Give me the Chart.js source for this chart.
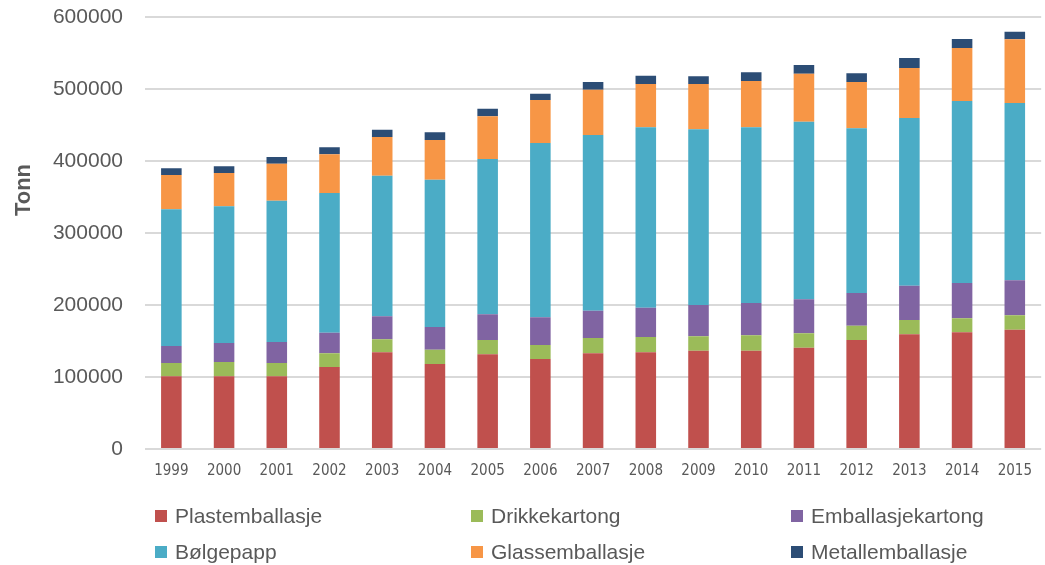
<!DOCTYPE html>
<html>
<head>
<meta charset="utf-8">
<script src="https://cdn.jsdelivr.net/npm/chart.js@4/dist/chart.umd.min.js"></script>
<style>
  body { margin: 0; background: #fff; }
  #wrap { position: relative; width: 1045px; height: 565px; }
  #legend { position: absolute; left: 0; top: 0; width: 1045px; height: 565px; pointer-events: none;
            font-family: "Liberation Sans", Arial, sans-serif; font-size: 21px; color: #595959; }
  .item { position: absolute; display: flex; align-items: center; white-space: nowrap; }
  .box { width: 12px; height: 12px; margin-right: 8px; }
</style>
</head>
<body>
<div id="wrap">
  <canvas id="chart" width="1045" height="565"></canvas>
  <div id="legend"></div>
</div>
<script>
// Årstall
const years = ['1999', '2000', '2001', '2002', '2003', '2004', '2005', '2006', '2007',
               '2008', '2009', '2010', '2011', '2012', '2013', '2014', '2015'];

// Tonn per emballasjetype
const plastemballasje = [101000, 101000, 101000, 113900, 134300, 118100, 131500, 125000, 132900,
                         134300, 136600, 136600, 140700, 151400, 159300, 162000, 165700];
const drikkekartong = [18400, 19800, 18400, 19000, 18000, 19800, 19900, 19400, 21300,
                       21300, 19900, 21300, 19900, 19900, 19900, 19500, 20000];
const emballasjekartong = [23600, 26400, 29200, 28700, 32000, 31500, 35600, 38500, 37900,
                           40700, 43500, 44900, 47300, 45400, 47600, 49100, 48600];
const bolgepapp = [190000, 189800, 196300, 194000, 195300, 204700, 215800, 242100, 244000,
                   250500, 244000, 244000, 246700, 228700, 232900, 252700, 246300];
const glassemballasje = [47500, 46300, 51400, 53700, 53700, 55100, 59300, 59700, 62900,
                         60100, 62900, 64300, 66700, 64300, 69500, 73600, 88400];
const metallemballasje = [9300, 9300, 9200, 9700, 10200, 10600, 10600, 8800, 10700,
                          11600, 10700, 12100, 12000, 12100, 13900, 12500, 10600];

const yTicks = [0, 100000, 200000, 300000, 400000, 500000, 600000];

const series = [
    { label: 'Plastemballasje', data: plastemballasje, color: '#c0504d' },
    { label: 'Drikkekartong', data: drikkekartong, color: '#9bbb59' },
    { label: 'Emballasjekartong', data: emballasjekartong, color: '#8064a2' },
    { label: 'Bølgepapp', data: bolgepapp, color: '#4bacc6' },
    { label: 'Glassemballasje', data: glassemballasje, color: '#f79646' },
    { label: 'Metallemballasje', data: metallemballasje, color: '#2c4d75' }
];

const grey = '#595959';

// Tegner aksetittelen "Tonn"
const yTitlePlugin = {
    id: 'yTitle',
    afterDraw(chart) {
        const ctx = chart.ctx;
        ctx.save();
        ctx.translate(24, 190);
        ctx.rotate(-Math.PI / 2);
        ctx.font = 'bold 22px "Liberation Sans", Arial, sans-serif';
        ctx.fillStyle = grey;
        ctx.textAlign = 'center';
        ctx.textBaseline = 'middle';
        ctx.fillText('Tonn', 0, 0);
        ctx.restore();
    }
};

const ctx = document.getElementById('chart').getContext('2d');
const chart = new Chart(ctx, {
    type: 'bar',
    data: {
        labels: years,
        datasets: series.map(s => ({
            label: s.label,
            data: s.data,
            backgroundColor: s.color,
            borderWidth: 0,
            categoryPercentage: 1,
            barPercentage: 0.39
        }))
    },
    options: {
        responsive: false,
        animation: false,
        layout: { padding: { top: 17, right: 1, left: 0, bottom: 0 } },
        plugins: {
            legend: { display: false },
            tooltip: { enabled: false }
        },
        scales: {
            x: {
                stacked: true,
                grid: { display: false, drawTicks: false },
                border: { display: false },
                ticks: {
                    color: grey,
                    padding: 13,
                    maxRotation: 0,
                    font: { family: '"Liberation Sans Narrow", "DejaVu Sans Condensed", sans-serif', size: 15 }
                },
                afterFit(scale) { scale.height = 116; }
            },
            y: {
                stacked: true,
                min: 0,
                max: 600000,
                afterBuildTicks(scale) { scale.ticks = yTicks.map(v => ({ value: v })); },
                grid: { color: '#d9d9d9', lineWidth: 2, drawTicks: false },
                border: { display: false },
                ticks: {
                    color: grey,
                    padding: 22,
                    font: { family: '"Liberation Sans", Arial, sans-serif', size: 21 },
                    callback: v => String(v)
                },
                afterFit(scale) {
                    scale.width = 145;
                    scale.paddingTop = 0;
                    scale.paddingBottom = 0;
                }
            }
        }
    },
    plugins: [yTitlePlugin]
});

// Forklaring i tre kolonner under diagrammet
const legend = document.getElementById('legend');
const colX = [155, 471, 791];
const rowY = [516, 552];
series.forEach((s, i) => {
    const item = document.createElement('div');
    item.className = 'item';
    item.style.left = colX[i % 3] + 'px';
    item.style.top = (rowY[Math.floor(i / 3)] - 12) + 'px';
    item.style.height = '24px';
    const box = document.createElement('span');
    box.className = 'box';
    box.style.background = s.color;
    const text = document.createElement('span');
    text.textContent = s.label;
    item.appendChild(box);
    item.appendChild(text);
    legend.appendChild(item);
});
</script>
</body>
</html>
